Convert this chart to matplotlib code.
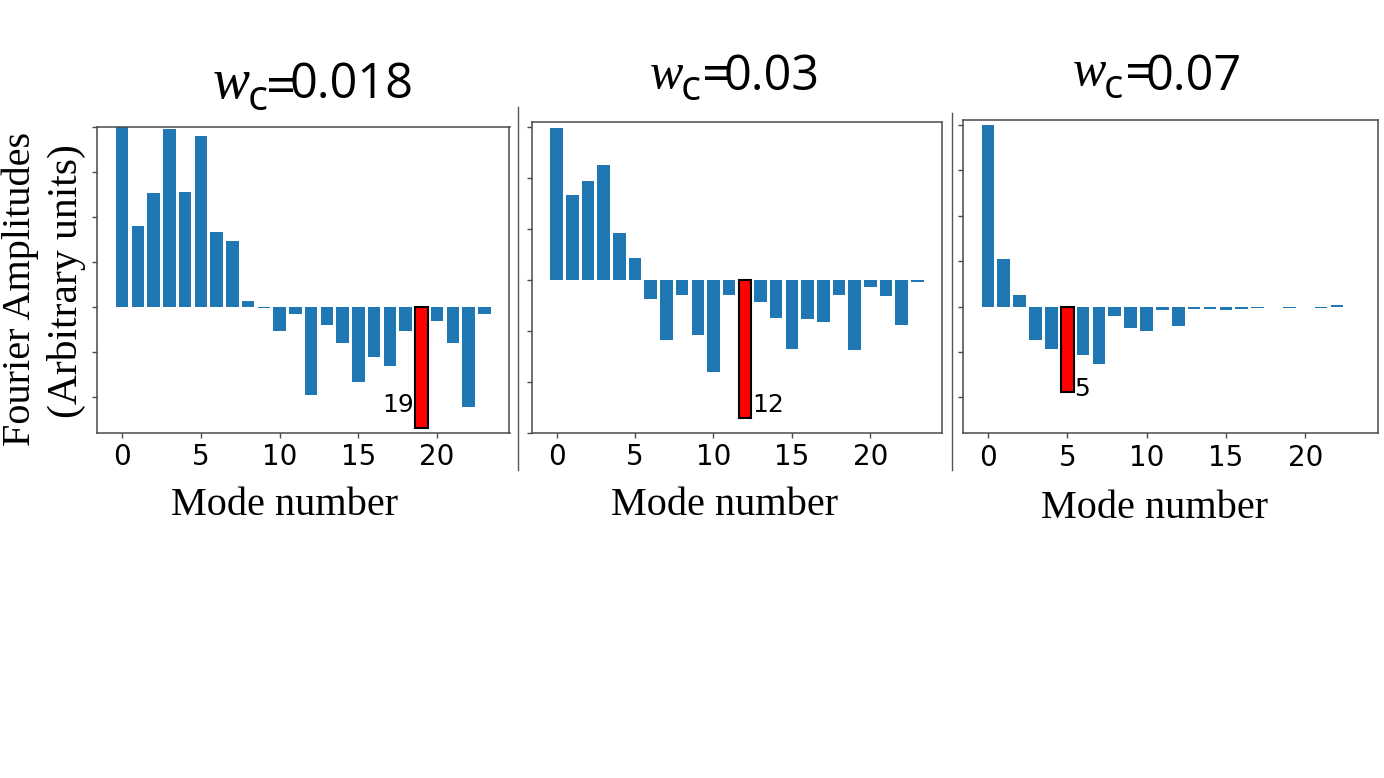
import matplotlib
matplotlib.use("Agg")
import matplotlib.pyplot as plt
from matplotlib.lines import Line2D

W, H = 1384, 778

# --- data (arbitrary units, one unit = one y tick step) ---
modes = list(range(24))

amp_018 = [4.50, 1.81, 2.53, 3.95, 2.55, 3.81, 1.67, 1.47, 0.13, -0.025,
           -0.54, -0.16, -1.96, -0.40, -0.80, -1.67, -1.10, -1.32, -0.54, -2.68,
           -0.32, -0.79, -2.22, -0.16]
amp_03 = [2.98, 1.67, 1.94, 2.26, 0.92, 0.43, -0.37, -1.18, -0.29, -1.09,
          -1.80, -0.29, -2.71, -0.44, -0.75, -1.35, -0.77, -0.82, -0.30, -1.37,
          -0.14, -0.32, -0.88, -0.05]
amp_07 = [4.00, 1.05, 0.26, -0.73, -0.94, -1.89, -1.06, -1.27, -0.21, -0.46,
          -0.53, -0.07, -0.43, -0.05, -0.05, -0.08, -0.045, -0.03, 0.0, -0.03,
          0.0, -0.03, 0.04, 0.0]

highlight = [19, 12, 5]
titles = ["0.018", "0.03", "0.07"]
xticks = [0, 5, 10, 15, 20]

BLUE = "#1f77b4"
SPINE = "#4a4a4a"
SERIF = ["Liberation Serif", "DejaVu Serif"]
SANS = ["Open Sans", "DejaVu Sans"]


def fx(x):
    return x / W


def fy(y):
    return 1 - y / H


def add_axes_px(fig, left, top, right, bottom):
    return fig.add_axes([fx(left), fy(bottom), (right - left) / W, (bottom - top) / H])


fig = plt.figure(figsize=(W / 100, H / 100), dpi=100)
fig.patch.set_facecolor("white")

panels = [
    # values, axes box (px), ylim, yticks, label offset, label ha
    (amp_018, (97, 127, 509.5, 433), (-2.8, 4.0), range(-2, 5), (-0.45, 0.35), "right"),
    (amp_03, (531.7, 122, 942.3, 432.7), (-3.0, 3.1), range(-3, 4), (0.5, 0.12), "left"),
    (amp_07, (962.7, 119.6, 1378, 433.3), (-2.79, 4.12), range(-2, 5), (0.45, -0.08), "left"),
]

for (vals, box, ylim, yt, off, ha), hi in zip(panels, highlight):
    ax = add_axes_px(fig, *box)
    colors = ["red" if m == hi else BLUE for m in modes]
    edges = ["black" if m == hi else "none" for m in modes]
    lws = [1.5 if m == hi else 0 for m in modes]
    ax.bar(modes, vals, width=0.8, color=colors, edgecolor=edges, linewidth=lws)
    ax.set_ylim(*ylim)
    ax.set_yticks(list(yt))
    ax.set_yticklabels([])
    ax.set_xticks(xticks)
    ax.tick_params(axis="both", direction="out", length=3.5, width=1, color=SPINE)
    ax.tick_params(axis="x", labelsize=20, pad=4)
    for s in ax.spines.values():
        s.set_color(SPINE)
        s.set_linewidth(1.1)
    ax.text(hi + off[0], vals[hi] + off[1], str(hi), ha=ha, va="baseline",
            fontsize=18, family=["DejaVu Sans"])

# --- titles: w (serif italic) + c (sans subscript) + "=" overlapping the value ---
title_px = [
    # w (x, baseline, size), c (x, baseline, size), = (x, baseline, size), value (x, baseline, size)
    ((213, 98, 40), (248, 110, 30), (266, 104, 38), (289, 98, 35)),
    ((650, 88, 36), (681, 100, 30), (702, 92, 38), (724, 90, 35)),
    ((1073, 85, 36), (1104, 98, 29), (1125, 90, 38), (1146, 90, 35)),
]
for (w, c, eq, v), t in zip(title_px, titles):
    fig.text(fx(w[0]), fy(w[1]), "w", fontsize=w[2], family=SERIF, style="italic",
             ha="left", va="baseline")
    fig.text(fx(c[0]), fy(c[1]), "c", fontsize=c[2], family=SANS, ha="left", va="baseline")
    fig.text(fx(v[0]), fy(v[1]), t, fontsize=v[2], family=SANS, ha="left", va="baseline")
    fig.text(fx(eq[0]), fy(eq[1]), "=", fontsize=eq[2], family=SANS, ha="left", va="baseline")

# --- axis labels ---
for xc, yb in [(285, 515), (725, 515), (1155, 518)]:
    fig.text(fx(xc), fy(yb), "Mode number", fontsize=29, family=SERIF,
             ha="center", va="baseline")

fig.text(fx(20), fy(289), "Fourier Amplitudes", fontsize=29, family=SERIF,
         rotation=90, ha="center", va="center")
fig.text(fx(66), fy(281), "(Arbitrary units)", fontsize=30, family=SERIF,
         rotation=90, ha="center", va="center")

# --- separators between panels ---
for x, y0 in [(518.3, 107), (952.3, 113)]:
    fig.add_artist(Line2D([fx(x), fx(x)], [fy(y0), fy(470)], color="#555555", lw=1.0))

fig.savefig("out.png", dpi=100, facecolor="white")
